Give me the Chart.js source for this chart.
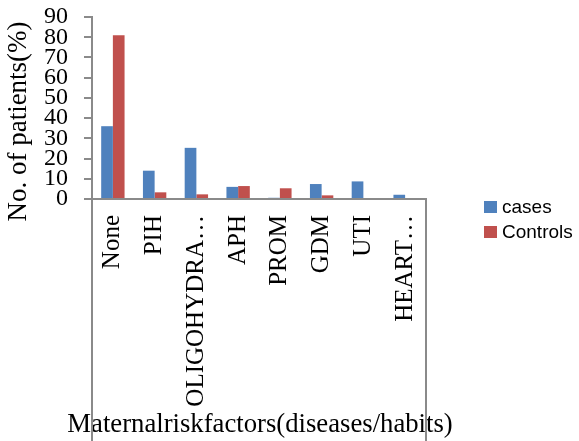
<!DOCTYPE html>
<html>
<head>
<meta charset="utf-8">
<script src="https://cdn.jsdelivr.net/npm/chart.js@4"></script>
<style>
  html, body { margin: 0; padding: 0; background: #ffffff; }
  #wrap { width: 579px; height: 441px; }
</style>
</head>
<body>
<div id="wrap"><canvas id="c" width="579" height="441"></canvas></div>
<script>
// Maternal risk factors: share of patients (%) in cases vs controls
const categories = ['None', 'PIH', 'OLIGOHYDRA…', 'APH', 'PROM', 'GDM', 'UTI', 'HEART…'];
const casesValues = [36, 14, 25.3, 6, 0.6, 7.4, 8.7, 2.1];
const controlsValues = [81, 3.3, 2.3, 6.4, 5.3, 1.8, 0, 0];
const yTickValues = [0, 10, 20, 30, 40, 50, 60, 70, 80, 90];
const seriesNames = ['cases', 'Controls'];
const seriesColors = ['#4F81BD', '#C0504D'];
const xTitle = 'Maternalriskfactors(diseases/habits)';
const yTitle = 'No. of patients(%)';

const axisColor = '#8a8a8a';
const serif = '"Liberation Serif", "Times New Roman", serif';

// Draws the label-box frame lines under the category axis, the category
// axis title (wider than the plot, so it is not squeezed) and the side legend
const frameAndLegend = {
  id: 'frameAndLegend',
  afterDraw(chart) {
    const { ctx, chartArea, scales } = chart;
    const x = scales.x;
    ctx.save();
    ctx.fillStyle = '#000000';
    ctx.font = '26.7px ' + serif;
    ctx.textAlign = 'center';
    ctx.textBaseline = 'alphabetic';
    ctx.fillText(xTitle, (x.left + x.right) / 2 + 1, 432);

    ctx.strokeStyle = axisColor;
    ctx.lineWidth = 2;
    ctx.beginPath();
    ctx.moveTo(Math.round(x.left), chartArea.bottom);
    ctx.lineTo(Math.round(x.left), chart.height);
    ctx.moveTo(Math.round(x.right), chartArea.bottom - 1);
    ctx.lineTo(Math.round(x.right), chart.height);
    ctx.stroke();

    ctx.font = '19px "Liberation Sans", Arial, sans-serif';
    ctx.textBaseline = 'middle';
    ctx.textAlign = 'left';
    chart.data.datasets.forEach((ds, i) => {
      const top = 201 + i * 25;
      ctx.fillStyle = ds.backgroundColor;
      ctx.fillRect(484, top, 13, 12);
      ctx.fillStyle = '#000000';
      ctx.fillText(ds.label, 502, top + 7);
    });
    ctx.restore();
  }
};

new Chart(document.getElementById('c'), {
  type: 'bar',
  data: {
    labels: categories,
    datasets: [
      { label: seriesNames[0], data: casesValues, backgroundColor: seriesColors[0] },
      { label: seriesNames[1], data: controlsValues, backgroundColor: seriesColors[1] }
    ]
  },
  options: {
    responsive: false,
    animation: false,
    events: [],
    layout: { padding: { top: 17, right: 153, left: 0, bottom: 0 } },
    datasets: { bar: { categoryPercentage: 0.56, barPercentage: 1.0 } },
    plugins: {
      legend: { display: false },
      tooltip: { enabled: false }
    },
    scales: {
      x: {
        offset: true,
        grid: { display: false, drawTicks: false },
        border: { display: true, color: axisColor, width: 2 },
        ticks: {
          autoSkip: false,
          minRotation: 90,
          maxRotation: 90,
          padding: 16,
          color: '#000000',
          font: { family: serif, size: 25 }
        },
        title: { display: false },
        afterFit(scale) { scale.height = 242; }
      },
      y: {
        min: 0,
        max: 90,
        afterBuildTicks(scale) { scale.ticks = yTickValues.map(v => ({ value: v })); },
        grid: {
          drawOnChartArea: false,
          drawTicks: true,
          tickLength: 8,
          color: axisColor,
          lineWidth: 2
        },
        border: { display: true, color: axisColor, width: 2 },
        ticks: {
          autoSkip: false,
          padding: 16,
          color: '#000000',
          // single-line labels: a tight line height keeps the top of the axis at the 90 mark
          font: { family: serif, size: 24, lineHeight: 0.04 }
        },
        title: {
          display: true,
          text: yTitle + '    ',
          color: '#000000',
          font: { family: serif, size: 27, lineHeight: 1 },
          padding: { top: 5, bottom: 0 }
        },
        afterFit(scale) { scale.width = 92; }
      }
    }
  },
  plugins: [frameAndLegend]
});
</script>
</body>
</html>
